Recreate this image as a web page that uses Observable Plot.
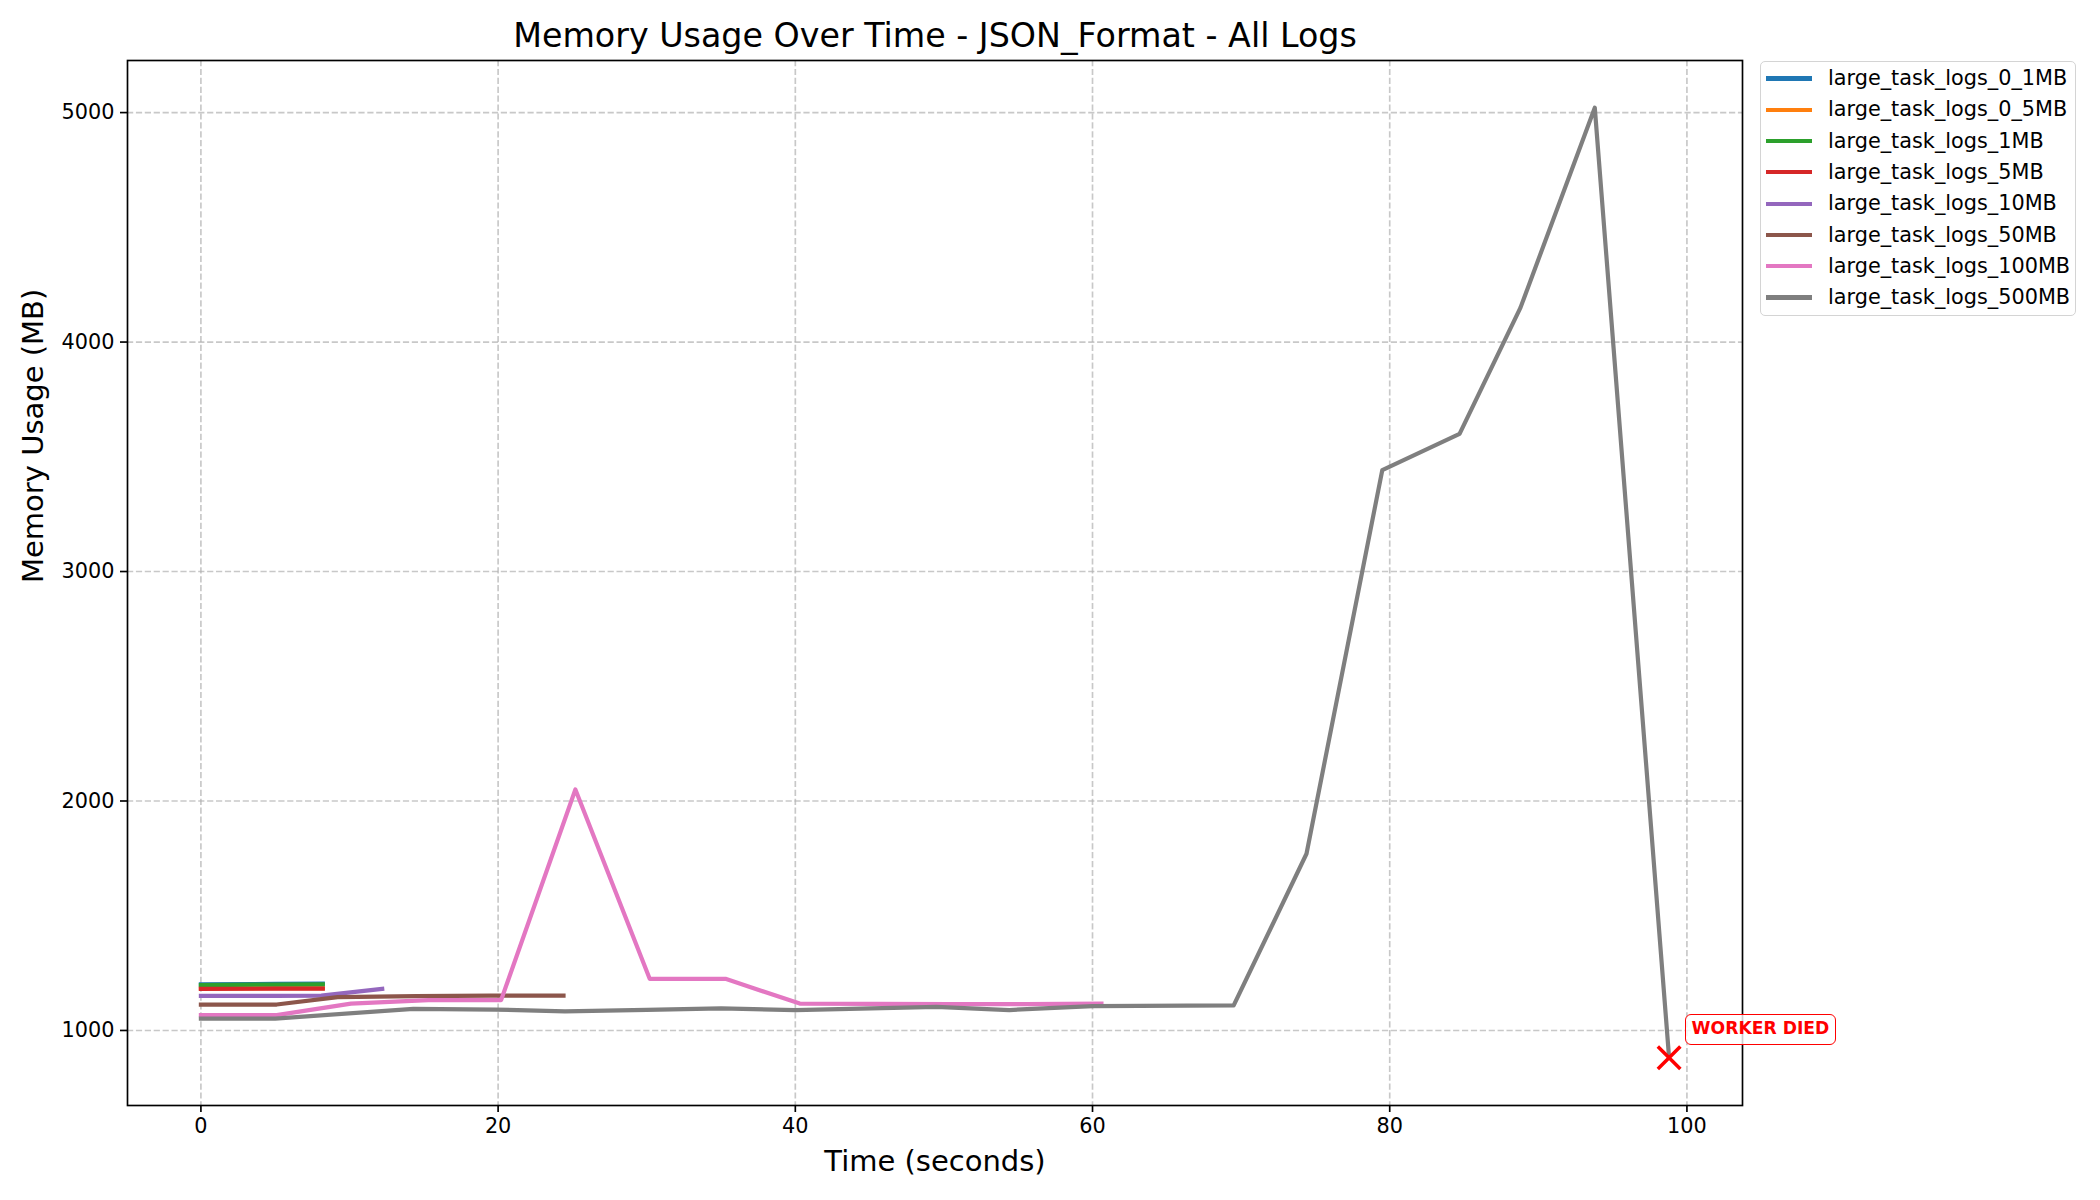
<!DOCTYPE html>
<html><head><meta charset="utf-8">
<script src="https://cdn.jsdelivr.net/npm/d3@7"></script>
<script src="https://cdn.jsdelivr.net/npm/@observablehq/plot@0.6"></script>
<style>
body{margin:0;background:#fff;font-family:"DejaVu Sans",sans-serif;}
#wrap{position:relative;width:2100px;height:1200px;overflow:hidden;}
#legend{position:absolute;left:1760px;top:61px;width:316px;height:255px;border:1.7px solid #d4d4d4;border-radius:5px;background:#fff;box-sizing:border-box;}
.item{position:absolute;left:0;height:31px;width:100%;}
.swatch{position:absolute;left:5px;width:46px;height:4.2px;}
.lab{position:absolute;left:67px;font-size:20.8px;line-height:20.8px;color:#000;white-space:nowrap;}
#died{position:absolute;box-sizing:border-box;height:31px;padding:0 6px;border:1.67px solid red;border-radius:6px;background:rgba(255,255,255,0.8);color:red;font-weight:bold;font-size:17.2px;line-height:27.6px;white-space:nowrap;}
</style></head><body><div id="wrap"></div>
<script>
const seriesNames = ["large_task_logs_0_1MB","large_task_logs_0_5MB","large_task_logs_1MB","large_task_logs_5MB","large_task_logs_10MB","large_task_logs_50MB","large_task_logs_100MB","large_task_logs_500MB"];
const seriesColors = ["#1f77b4","#ff7f0e","#2ca02c","#d62728","#9467bd","#8c564b","#e377c2","#7f7f7f"];

const t_0_1MB = [0, 5, 8.2];
const m_0_1MB = [1201, 1203, 1204];
const t_0_5MB = [0, 5, 8.2];
const m_0_5MB = [1183, 1184, 1184];
const t_1MB = [0, 5, 8.2];
const m_1MB = [1198, 1200, 1201];
const t_5MB = [0, 5, 8.2];
const m_5MB = [1181, 1182, 1182];
const t_10MB = [0, 5, 8.1, 12.2];
const m_10MB = [1151, 1151, 1152, 1181];
const t_50MB = [0, 5.1, 9.2, 14.5, 19.5, 24.4];
const m_50MB = [1113, 1113, 1145, 1150, 1152, 1152];
const t_100MB = [0, 5.1, 10.1, 15.3, 20.2, 25.2, 30.2, 35.3, 40.3, 45.4, 50.4, 55.5, 60.6];
const m_100MB = [1067, 1067, 1117, 1132, 1132, 2050, 1225, 1225, 1117, 1116, 1115, 1115, 1117];
const t_500MB = [0, 5, 14.3, 19.8, 24.5, 30, 35, 40, 49.5, 54.4, 60, 69.5, 74.4, 79.5, 84.7, 88.8, 93.8, 98.8];
const m_500MB = [1052, 1052, 1094, 1091, 1083, 1090, 1096, 1089, 1103, 1089, 1106, 1109, 1770, 3442, 3600, 4150, 5021, 881];

const seriesTimes = [t_0_1MB, t_0_5MB, t_1MB, t_5MB, t_10MB, t_50MB, t_100MB, t_500MB];
const seriesMems = [m_0_1MB, m_0_5MB, m_1MB, m_5MB, m_10MB, m_50MB, m_100MB, m_500MB];

const xTicks = [0, 20, 40, 60, 80, 100];
const yTicks = [1000, 2000, 3000, 4000, 5000];
const diedTime = 98.8, diedMem = 881, diedLabel = "WORKER DIED";

const titleText = "Memory Usage Over Time - JSON_Format - All Logs";
const xLabel = "Time (seconds)";
const yLabel = "Memory Usage (MB)";

const gridStyle = {stroke: "#b0b0b0", strokeOpacity: 0.7, strokeWidth: 1.67, strokeDasharray: "6.2,2.7"};

const lineMarks = seriesNames.map((name, i) => {
  const rows = seriesTimes[i].map((t, j) => ({t, m: seriesMems[i][j]}));
  return Plot.line(rows, {x: "t", y: "m", stroke: seriesColors[i], strokeWidth: 4.2, strokeLinejoin: "round", strokeLinecap: "square"});
});

const died = [{t: diedTime, m: diedMem, label: diedLabel}];

const chart = Plot.plot({
  width: 2100, height: 1200,
  marginLeft: 127, marginRight: 358, marginTop: 60, marginBottom: 95,
  style: {fontFamily: "DejaVu Sans", fontSize: "20.8px", background: "white", color: "black", overflow: "visible"},
  x: {domain: [-4.94, 103.74]},
  y: {domain: [673, 5227]},
  marks: [
    Plot.gridX(xTicks, gridStyle),
    Plot.gridY(yTicks, gridStyle),
    ...lineMarks,
    Plot.frame({stroke: "black", strokeWidth: 1.67}),
    Plot.dot(died, {x: "t", y: "m", symbol: "times", r: 10.3, stroke: "red", strokeWidth: 3.5}),
    Plot.axisX(xTicks, {tickSize: 7, tickPadding: 6, label: null, fontSize: 20.8, strokeWidth: 1.67, stroke: "black"}),
    Plot.axisY(yTicks, {tickSize: 7, tickPadding: 6, label: null, fontSize: 20.8, strokeWidth: 1.67, stroke: "black", tickFormat: d3.format("d")}),
    Plot.text([xLabel], {text: d => d, frameAnchor: "bottom", dy: 56, fontSize: 29, lineAnchor: "middle"}),
    Plot.text([yLabel], {text: d => d, frameAnchor: "left", dx: -94, rotate: -90, fontSize: 29, lineAnchor: "middle"}),
    Plot.text([titleText], {text: d => d, frameAnchor: "top", dy: -24, fontSize: 33.3, lineAnchor: "middle"})
  ]
});

const wrap = document.getElementById("wrap");
wrap.appendChild(chart);

// WORKER DIED annotation box, placed through the chart's scales
const sx = chart.scale("x"), sy = chart.scale("y");
const box = document.createElement("div");
box.id = "died";
box.textContent = diedLabel;
box.style.left = (sx.apply(diedTime) + 16) + "px";
box.style.top = (sy.apply(diedMem) - 43) + "px";
wrap.appendChild(box);

// legend
const legend = document.createElement("div");
legend.id = "legend";
seriesNames.forEach((name, i) => {
  const item = document.createElement("div");
  item.className = "item";
  item.style.top = (1 + 31.3 * i) + "px";
  const sw = document.createElement("div");
  sw.className = "swatch";
  sw.style.background = seriesColors[i];
  sw.style.top = (15.5 - 2.1) + "px";
  const lab = document.createElement("div");
  lab.className = "lab";
  lab.style.top = (15.5 - 10.4) + "px";
  lab.textContent = name;
  item.appendChild(sw); item.appendChild(lab);
  legend.appendChild(item);
});
wrap.appendChild(legend);
</script>
</body></html>
